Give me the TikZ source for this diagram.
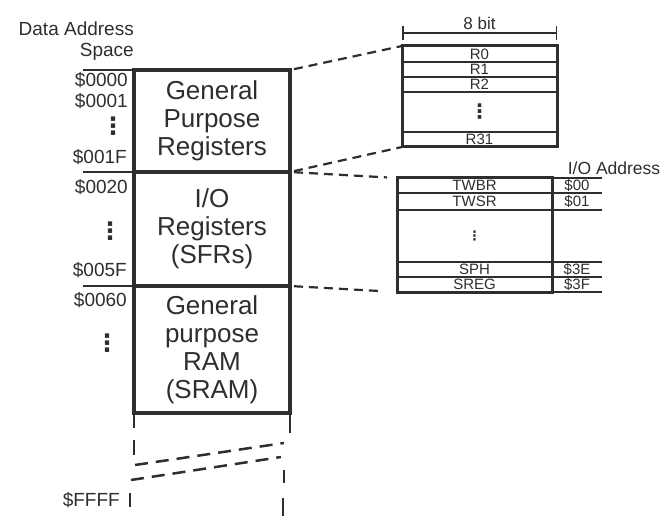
\documentclass[tikz,border=0pt]{standalone}
\usepackage{fontspec}
\setmainfont{Liberation Sans}
\newfontfamily\dotsfont{DejaVu Sans}
\newcommand{\vd}{{\dotsfont\bfseries ⋮}}
\usetikzlibrary{arrows.meta,positioning,fit,calc}
\definecolor{ink}{HTML}{2E2E2E}

\begin{document}
\begin{tikzpicture}[x=1pt,y=-1pt,
  every node/.append style={text=ink},
  region/.style={draw=ink, line width=3.5pt, minimum width=156pt, inner sep=0pt, outer sep=0pt, align=center, font=\fontsize{26}{28}\selectfont},
  lbl/.style={inner sep=0pt, font=\fontsize{19}{21}\selectfont},
  dots/.style={inner sep=0pt, font=\fontsize{24}{24}\selectfont},
  cell/.style={draw=ink, line width=1.2pt, minimum width=155pt, inner sep=0pt, outer sep=0pt, font=\fontsize{15}{15}\selectfont},
  addr/.style={minimum width=50pt, inner sep=0pt, outer sep=0pt, font=\fontsize{15}{15}\selectfont},
  frame/.style={draw=ink, line width=3pt, inner sep=0pt, outer sep=0pt},
  rule/.style={draw=ink, line width=2.5pt},
  link/.style={draw=ink, line width=2.2pt, dash pattern=on 9pt off 6pt, shorten <=4pt},
  brk/.style={draw=ink, line width=2.5pt},
]
\useasboundingbox (0,0) rectangle (667,516);

% Data address space
\node[region, minimum height=102pt] (gpr) at (212,121) {General\\Purpose\\Registers};
\node[region, minimum height=114pt, below=0pt of gpr] (io) {I/O\\Registers\\(SFRs)};
\node[region, minimum height=127pt, below=0pt of io] (sram) {General\\purpose\\RAM\\(SRAM)};

\node[lbl, align=right, anchor=east] (das) at (134,41) {Data Address\\Space};
\draw[rule] (gpr.north west) -- ++(-51,0);
\draw[rule] (io.north west) -- ++(-51,0);
\draw[rule] (sram.north west) -- ++(-51,0);

% Addresses
\node[lbl, anchor=east] (s0000) at (128,80) {\$0000};
\node[lbl, anchor=east] (s0001) at (128,101) {\$0001};
\node[dots] (d1) at (113,126) {\vd};
\node[lbl, anchor=east] (s001F) at (127,157) {\$001F};
\node[lbl, anchor=east] (s0020) at (128,187) {\$0020};
\node[dots] (d2) at (110,231) {\vd};
\node[lbl, anchor=east] (s005F) at (127,270) {\$005F};
\node[lbl, anchor=east] (s0060) at (127,300) {\$0060};
\node[dots] (d3) at (107,343) {\vd};
\node[lbl, anchor=east] (sFFFF) at (120,500) {\$FFFF};

% Break
\coordinate (bl) at (sram.south west);
\coordinate (br) at (sram.south east);
\draw[brk] (bl) -- ++(0,15);
\draw[brk] (bl) ++(0,27) -- ++(0,15);
\draw[brk] (bl) ++(-4,80) -- ++(0,14);
\draw[brk] (br) -- ++(0,20);
\draw[brk] (br) ++(-6,57) -- ++(0,13);
\draw[brk] (br) ++(-7,85) -- ++(0,18);
\draw[brk, dash pattern=on 13pt off 8pt] (bl) ++(1,52) -- ($(br)+(-6,30)$);
\draw[brk, dash pattern=on 13pt off 8pt] (bl) ++(-3,67) -- ($(br)+(-9,44)$);

% General purpose registers
\node[cell, minimum height=16pt] (r0) at (479.5,54) {R0};
\node[cell, minimum height=15pt, below=0pt of r0] (r1) {R1};
\node[cell, minimum height=15pt, below=0pt of r1] (r2) {R2};
\node[cell, minimum height=40pt, below=0pt of r2, font=\fontsize{20}{20}\selectfont] (rdots) {\vd};
\node[cell, minimum height=15pt, below=0pt of rdots] (r31) {R31};
\node[frame, fit=(r0)(r31)] (regs) {};
\draw[draw=ink, line width=1.5pt, {Bar[width=14pt]}-{Bar[width=14pt]}]
  ([yshift=13pt]regs.north west) -- ([yshift=13pt]regs.north east)
  node[midway, above=3pt, lbl, font=\fontsize{17}{17}\selectfont] (bits) {8 bit};

% I/O registers
\node[cell, minimum height=15pt] (t1) at (474.5,185.5) {TWBR};
\node[cell, minimum height=17pt, below=0pt of t1] (t2) {TWSR};
\node[cell, minimum height=52pt, below=0pt of t2, font=\fontsize{13}{13}\selectfont] (t3) {\vd};
\node[cell, minimum height=15pt, below=0pt of t3] (t4) {SPH};
\node[cell, minimum height=15pt, below=0pt of t4] (t5) {SREG};
\node[frame, fit=(t1)(t5)] (iobox) {};

\node[addr, minimum height=15pt, right=0pt of t1] (a1) {\$00};
\node[addr, minimum height=17pt, right=0pt of t2] (a2) {\$01};
\node[addr, minimum height=15pt, right=0pt of t4] (a4) {\$3E};
\node[addr, minimum height=15pt, right=0pt of t5] (a5) {\$3F};
\foreach \r/\a in {t1.north east/a1.north east, t1.south east/a1.south east,
    t2.south east/a2.south east, t4.north east/a4.north east,
    t4.south east/a4.south east, t5.south east/a5.south east}{
  \draw[draw=ink, line width=1.2pt] (\r) -- (\a);
}
\node[lbl, font=\fontsize{17.5}{18}\selectfont] (ioaddr) at (614,168) {I/O Address};

% Links
\draw[link] (gpr.north east) -- (regs.north west);
\draw[link] (gpr.south east) -- (regs.south west);
\draw[link, shorten >=10pt] (io.north east) -- (iobox.north west);
\draw[link, shorten >=14pt] (io.south east) -- (iobox.south west);

\end{tikzpicture}
\end{document}
